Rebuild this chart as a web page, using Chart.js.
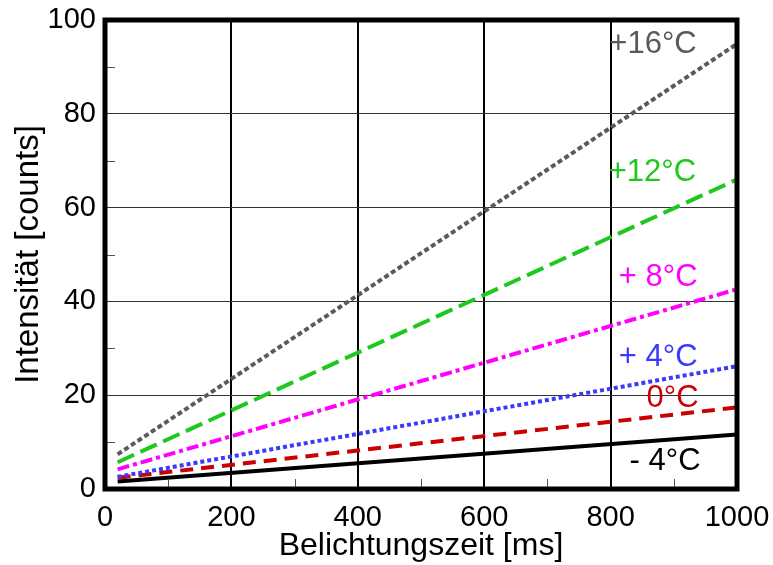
<!DOCTYPE html>
<html>
<head>
<meta charset="utf-8">
<script src="https://cdn.jsdelivr.net/npm/chart.js@4.4.1/dist/chart.umd.min.js"></script>
<style>
  html, body { margin: 0; padding: 0; background: #fff; }
  #wrap { width: 773px; height: 565px; }
</style>
</head>
<body>
<div id="wrap"><canvas id="chart" width="773" height="565"></canvas></div>
<script>
// exposure time (ms) at the two ends of every line
const exposure = [20, 1000];

// intensity (counts) per temperature
const minus4 = [1.6, 11.6];
const zero = [2.4, 17.4];
const plus4 = [2.6, 26.2];
const plus8 = [4.2, 42.6];
const plus12 = [5.7, 66.0];
const plus16 = [7.4, 94.9];

const xTicks = [0, 200, 400, 600, 800, 1000];
const yTicks = [0, 20, 40, 60, 80, 100];
const xMinor = [100, 300, 500, 700, 900];
const yMinor = [10, 30, 50, 70, 90];

// curve labels and where they sit (data units)
const labelTexts = ["+16°C", "+12°C", "+ 8°C", "+ 4°C", "0°C", "- 4°C"];
const labelX = [798, 797, 813, 813, 857, 830];
const labelY = [94.7, 67.6, 45.0, 28.1, 19.4, 5.8];

const series = [plus16, plus12, plus8, plus4, zero, minus4];
const colors = ["#5a5a5a", "#1ec81e", "#ff00ff", "#3a3aff", "#cc0000", "#000000"];
const dashes = [[5, 3], [18, 7], [12, 4, 4, 4], [4, 3], [13, 8], []];

const font = "'Liberation Sans', Arial, Helvetica, sans-serif";

const datasets = series.map((s, i) => ({
  label: labelTexts[i],
  data: exposure.map((x, j) => ({ x: x, y: s[j] })),
  borderColor: colors[i],
  borderWidth: 4,
  borderDash: dashes[i],
  pointRadius: 0,
  showLine: true,
  fill: false,
}));

const extras = {
  id: "extras",
  afterDraw(chart) {
    const ctx = chart.ctx;
    const a = chart.chartArea;
    const xs = chart.scales.x, ys = chart.scales.y;
    ctx.save();
    // minor ticks, pointing inward
    ctx.strokeStyle = "#555";
    ctx.lineWidth = 1;
    xMinor.forEach(v => {
      const px = Math.round(xs.getPixelForValue(v)) + 0.5;
      ctx.beginPath();
      ctx.moveTo(px, a.bottom);
      ctx.lineTo(px, a.bottom - 10);
      ctx.stroke();
    });
    yMinor.forEach(v => {
      const py = Math.round(ys.getPixelForValue(v)) + 0.5;
      ctx.beginPath();
      ctx.moveTo(a.left, py);
      ctx.lineTo(a.left + 10, py);
      ctx.stroke();
    });
    // frame
    ctx.strokeStyle = "#000";
    ctx.lineWidth = 5;
    ctx.strokeRect(a.left, a.top, a.right - a.left, a.bottom - a.top);
    // curve labels
    ctx.font = "31px " + font;
    ctx.textBaseline = "middle";
    ctx.textAlign = "left";
    labelTexts.forEach((t, i) => {
      ctx.fillStyle = colors[i];
      ctx.fillText(t, xs.getPixelForValue(labelX[i]), ys.getPixelForValue(labelY[i]));
    });
    ctx.restore();
  }
};

new Chart(document.getElementById("chart"), {
  type: "scatter",
  data: { datasets: datasets },
  plugins: [extras],
  options: {
    responsive: false,
    animation: false,
    layout: { padding: { left: 0, top: 20, right: 36, bottom: 0 } },
    plugins: { legend: { display: false }, tooltip: { enabled: false } },
    scales: {
      x: {
        type: "linear",
        min: 0,
        max: 1000,
        afterFit: s => { s.height = 76; s.paddingLeft = 0; s.paddingRight = 0; },
        afterBuildTicks: s => { s.ticks = xTicks.map(v => ({ value: v })); },
        ticks: { color: "#000", font: { size: 29, family: font }, padding: 12, maxRotation: 0, callback: v => String(v) },
        grid: { color: "#000", lineWidth: 2, drawTicks: false },
        border: { display: false },
        title: { display: true, text: "Belichtungszeit [ms]", color: "#000", font: { size: 32, family: font }, padding: { top: 0, bottom: 0 } },
      },
      y: {
        min: 0,
        max: 100,
        afterFit: s => { s.width = 105; s.paddingTop = 0; s.paddingBottom = 0; },
        afterBuildTicks: s => { s.ticks = yTicks.map(v => ({ value: v })); },
        ticks: { color: "#000", font: { size: 29, family: font }, padding: 9, callback: v => String(v) },
        grid: { color: "#333", lineWidth: 1, drawTicks: false },
        border: { display: false },
        title: { display: true, text: "Intensität [counts]", color: "#000", font: { size: 33, family: font }, padding: { top: 9, bottom: 0 } },
      },
    },
  },
});
</script>
</body>
</html>
